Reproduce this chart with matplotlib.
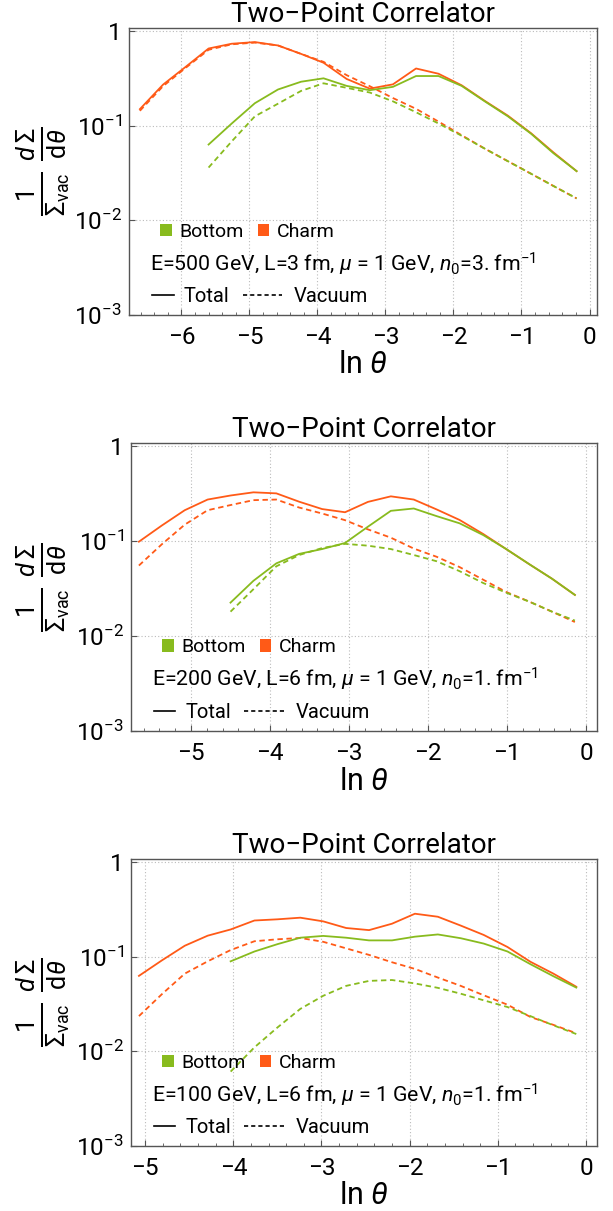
import numpy as np
import matplotlib
matplotlib.use('Agg')
import matplotlib.pyplot as plt
from matplotlib.patches import Patch
from matplotlib.lines import Line2D
from matplotlib.ticker import FixedLocator, MultipleLocator

plt.rcParams['font.family'] = ['Roboto', 'DejaVu Sans']
plt.rcParams['mathtext.fontset'] = 'custom'
plt.rcParams['mathtext.rm'] = 'Roboto'
plt.rcParams['mathtext.it'] = 'Roboto:italic'
plt.rcParams['mathtext.bf'] = 'Roboto:bold'
plt.rcParams['axes.unicode_minus'] = True

# ---------------- data ----------------
# Panel 1: E=500 GeV, L=3 fm, n0=3
x1 = [-6.61, -6.27, -5.93, -5.60, -5.26, -4.92, -4.58, -4.24, -3.91, -3.57,
      -3.23, -2.89, -2.55, -2.22, -1.88, -1.54, -1.20, -0.86, -0.53, -0.19]
charm_tot1 = [0.149, 0.27, 0.42, 0.65, 0.73, 0.76, 0.70, 0.57, 0.46, 0.31,
              0.245, 0.272, 0.40, 0.352, 0.266, 0.182, 0.127, 0.083, 0.052, 0.033]
charm_vac1 = [0.143, 0.26, 0.41, 0.63, 0.72, 0.75, 0.70, 0.57, 0.47, 0.34,
              0.26, 0.195, 0.15, 0.11, 0.079, 0.057, 0.042, 0.031, 0.023, 0.017]
bx1 = [-5.60, -5.26, -4.92, -4.58, -4.24, -3.91, -3.57, -3.23, -2.89, -2.55,
       -2.22, -1.88, -1.54, -1.20, -0.86, -0.53, -0.19]
bottom_tot1 = [0.063, 0.105, 0.172, 0.24, 0.29, 0.315, 0.262, 0.236, 0.256, 0.333,
               0.333, 0.262, 0.18, 0.125, 0.082, 0.051, 0.033]
bottom_vac1 = [0.036, 0.068, 0.125, 0.17, 0.232, 0.279, 0.25, 0.223, 0.18, 0.138,
               0.105, 0.078, 0.057, 0.042, 0.031, 0.023, 0.017]

# Panel 2: E=200 GeV, L=6 fm, n0=1
x2 = [-5.66, -5.37, -5.08, -4.79, -4.50, -4.21, -3.92, -3.63, -3.34, -3.05,
      -2.76, -2.47, -2.18, -1.89, -1.60, -1.30, -1.01, -0.72, -0.43, -0.14]
charm_tot2 = [0.098, 0.145, 0.21, 0.272, 0.30, 0.324, 0.316, 0.258, 0.216, 0.20,
              0.257, 0.294, 0.272, 0.214, 0.166, 0.118, 0.082, 0.057, 0.040, 0.027]
charm_vac2 = [0.055, 0.092, 0.148, 0.21, 0.238, 0.268, 0.272, 0.224, 0.194, 0.165,
              0.132, 0.108, 0.083, 0.068, 0.053, 0.039, 0.029, 0.023, 0.018, 0.014]
bx2 = [-4.50, -4.21, -3.92, -3.63, -3.34, -3.05, -2.76, -2.47, -2.18, -1.89,
       -1.60, -1.30, -1.01, -0.72, -0.43, -0.14]
bottom_tot2 = [0.0224, 0.038, 0.058, 0.073, 0.082, 0.095, 0.141, 0.207, 0.219, 0.182,
               0.153, 0.115, 0.082, 0.057, 0.040, 0.027]
bottom_vac2 = [0.018, 0.031, 0.054, 0.071, 0.084, 0.093, 0.089, 0.082, 0.071, 0.061,
               0.048, 0.036, 0.0285, 0.023, 0.018, 0.0145]

# Panel 3: E=100 GeV, L=6 fm, n0=1
x3 = [-5.07, -4.81, -4.55, -4.29, -4.03, -3.76, -3.50, -3.24, -2.98, -2.72,
      -2.46, -2.20, -1.94, -1.68, -1.42, -1.16, -0.89, -0.63, -0.37, -0.11]
charm_tot3 = [0.0625, 0.091, 0.13, 0.166, 0.193, 0.24, 0.247, 0.257, 0.235, 0.20,
              0.19, 0.222, 0.283, 0.263, 0.212, 0.169, 0.126, 0.088, 0.066, 0.048]
charm_vac3 = [0.0235, 0.040, 0.066, 0.089, 0.117, 0.145, 0.152, 0.157, 0.143, 0.122,
              0.104, 0.087, 0.074, 0.060, 0.049, 0.039, 0.031, 0.023, 0.019, 0.0155]
bx3 = [-4.03, -3.76, -3.50, -3.24, -2.98, -2.72, -2.46, -2.20, -1.94, -1.68,
       -1.42, -1.16, -0.89, -0.63, -0.37, -0.11]
bottom_tot3 = [0.089, 0.113, 0.135, 0.158, 0.165, 0.158, 0.148, 0.148, 0.162, 0.171,
               0.156, 0.137, 0.113, 0.083, 0.062, 0.047]
bottom_vac3 = [0.0061, 0.011, 0.0178, 0.028, 0.0385, 0.049, 0.0553, 0.0565, 0.052, 0.0467,
               0.0405, 0.0345, 0.0293, 0.0235, 0.0188, 0.0152]

params = [r'E=500 GeV, L=3 fm, $\mu$ = 1 GeV, $n_0$=3. fm$^{-1}$',
          r'E=200 GeV, L=6 fm, $\mu$ = 1 GeV, $n_0$=1. fm$^{-1}$',
          r'E=100 GeV, L=6 fm, $\mu$ = 1 GeV, $n_0$=1. fm$^{-1}$']
xlims = [(-6.77, 0.11), (-5.76, 0.14), (-5.16, 0.125)]
xticks = [[-6, -5, -4, -3, -2, -1, 0], [-5, -4, -3, -2, -1, 0], [-5, -4, -3, -2, -1, 0]]
yticks = [1e-3, 1e-2, 1e-1, 1]
ytick_labels = [r'$10^{-3}$', r'$10^{-2}$', r'$10^{-1}$', '1']
title = 'Two\u2212Point Correlator'
series_names = ['Bottom', 'Charm']
style_names = ['Total', 'Vacuum']

GREEN = '#88bb1e'
ORANGE = '#ff5a17'

panels = [
    (x1, charm_tot1, charm_vac1, bx1, bottom_tot1, bottom_vac1),
    (x2, charm_tot2, charm_vac2, bx2, bottom_tot2, bottom_vac2),
    (x3, charm_tot3, charm_vac3, bx3, bottom_tot3, bottom_vac3),
]

# axes boxes in pixels (left, right, top, bottom)
W, H = 613, 1211
boxes = [(129, 597, 28, 315), (131, 597, 443, 731), (131, 597, 859, 1146)]

fig = plt.figure(figsize=(W / 100, H / 100), dpi=100)

for i, (x, ct, cv, bx, bt, bv) in enumerate(panels):
    l, r, t, b = boxes[i]
    aw = r - l
    ax = fig.add_axes([l / W, 1 - b / H, aw / W, (b - t) / H])
    ax.set_yscale('log')
    ax.plot(x, ct, color=ORANGE, lw=1.3)
    ax.plot(x, cv, color=ORANGE, lw=1.3, ls=(0, (3, 2)))
    ax.plot(bx, bt, color=GREEN, lw=1.3)
    ax.plot(bx, bv, color=GREEN, lw=1.3, ls=(0, (3, 2)))
    ax.set_xlim(*xlims[i])
    ax.set_ylim(1e-3, 1.07)
    ax.xaxis.set_major_locator(FixedLocator(xticks[i]))
    ax.xaxis.set_minor_locator(MultipleLocator(0.2))
    ax.set_xticklabels([('\u2212%d' % -v) if v < 0 else '%d' % v for v in xticks[i]])
    ax.yaxis.set_major_locator(FixedLocator(yticks))
    ax.yaxis.set_minor_locator(FixedLocator([]))
    ax.set_yticklabels(ytick_labels)
    ax.tick_params(axis='both', which='major', direction='in', length=4, width=0.8,
                   labelsize=17.5, color='#555555')
    ax.tick_params(axis='x', which='minor', direction='in', length=2, width=0.6, color='#555555')
    ax.tick_params(axis='x', pad=8)
    ax.tick_params(axis='y', pad=5)
    ax.grid(True, which='major', color='#bbbbbb', ls=(0, (1, 2)), lw=0.8)
    for s in ax.spines.values():
        s.set_color('#555555')
        s.set_linewidth(1.0)
    ax.set_title(title, fontsize=20, pad=2)
    ax.set_xlabel(r'ln $\theta$', fontsize=22, labelpad=1)
    ax.set_ylabel(r'$\frac{1}{\Sigma_{\mathrm{vac}}}\;\frac{d\,\Sigma}{\mathrm{d}\theta}$',
                  fontsize=26)
    ax.yaxis.set_label_coords((72 - l) / aw, 0.5)

    h1 = [Patch(facecolor=GREEN, edgecolor='none'), Patch(facecolor=ORANGE, edgecolor='none')]
    leg1 = ax.legend(h1, series_names, loc='center left', bbox_to_anchor=(0.05, 0.29),
                     frameon=False, ncol=2, handlelength=0.6, handleheight=0.6,
                     handletextpad=0.4, columnspacing=0.7, fontsize=14, borderaxespad=0)
    ax.add_artist(leg1)
    ax.text(0.045, 0.178, params[i], transform=ax.transAxes, fontsize=15.3,
            va='center', ha='left')
    leg2 = ax.legend([Line2D([], [], color='black', lw=1.2)], [style_names[0]],
                     loc='center left', bbox_to_anchor=(0.05, 0.065),
                     frameon=False, handlelength=1.05, handletextpad=0.5,
                     fontsize=14.5, borderaxespad=0, borderpad=0)
    ax.add_artist(leg2)
    ax.legend([Line2D([], [], color='black', lw=1.2, ls=(0, (2.5, 1.8)))], [style_names[1]],
              loc='center left', bbox_to_anchor=(0.243, 0.065),
              frameon=False, handlelength=1.95, handletextpad=0.6,
              fontsize=14.5, borderaxespad=0, borderpad=0)

fig.savefig('out.png', dpi=100)
